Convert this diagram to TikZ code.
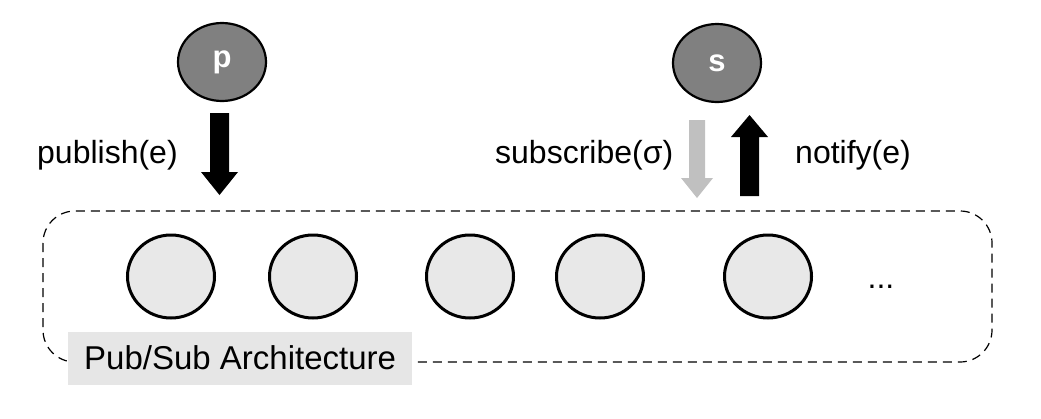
\documentclass[tikz,border=0pt]{standalone}
\usepackage{fontspec}
\setmainfont{Liberation Sans}
\usetikzlibrary{shapes.geometric}
\definecolor{nodegray}{HTML}{E8E8E8}
\definecolor{darkgray}{HTML}{808080}
\definecolor{labelgray}{HTML}{E6E6E6}
\definecolor{lightarrow}{HTML}{C0C0C0}
\begin{document}
\begin{tikzpicture}[x=1pt,y=-1pt,
  peer/.style={ellipse,draw=black,line width=3pt,fill=nodegray,minimum width=87pt,minimum height=83pt,inner sep=0pt},
  client/.style={ellipse,draw=black,line width=2.2pt,fill=darkgray,minimum width=88pt,minimum height=78pt,inner sep=0pt,text=white,font=\fontsize{31}{36}\selectfont\bfseries},
  lbl/.style={font=\fontsize{32}{38}\selectfont,inner sep=0pt}
]
\useasboundingbox (0,0) rectangle (1041,418);
% architecture box
\draw[dash pattern=on 9pt off 6pt,line width=1.2pt,rounded corners=32pt] (43,211) rectangle (992,362);
\node[fill=labelgray,minimum width=344pt,minimum height=53pt,inner sep=0pt] (arch) at (240,358.5) {};
\node[lbl,anchor=west,font=\fontsize{33}{38}\selectfont] (archtxt) at (84,358) {Pub/Sub Architecture};
% peers
\node[peer] (n1) at (171,276.5) {};
\node[peer] (n2) at (313,276.5) {};
\node[peer] (n3) at (470,276.5) {};
\node[peer] (n4) at (600,276.5) {};
\node[peer] (n5) at (768,276.5) {};
\node[lbl] (dots) at (881,287) {...};
% clients
\node[client] (p) at (222,62) {p};
\node[client] (s) at (717,63) {s};
% block arrows
\fill[black] (210,113) -- (229,113) -- (229,172) -- (238,172) -- (219.5,195) -- (201,172) -- (210,172) -- cycle;
\fill[lightarrow] (689,120) -- (705,120) -- (705,178) -- (713,178) -- (697,198) -- (681,178) -- (689,178) -- cycle;
\fill[black] (740,196) -- (759,196) -- (759,137) -- (768,137) -- (749.5,115) -- (731,137) -- (740,137) -- cycle;
% labels
\node[lbl,anchor=west] (pub) at (37,155) {publish(e)};
\node[lbl,anchor=west] (sub) at (495,155) {subscribe(σ)};
\node[lbl,anchor=west] (not) at (795,155) {notify(e)};
\end{tikzpicture}
\end{document}
